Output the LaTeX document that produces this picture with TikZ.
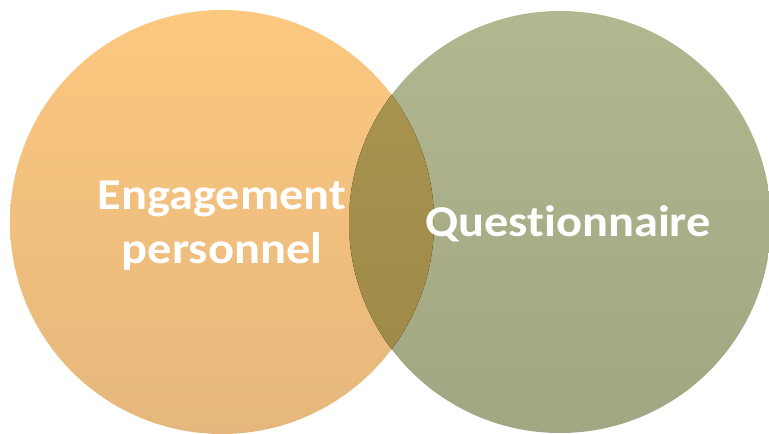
\documentclass[tikz,border=0pt]{standalone}
\usepackage{fontspec}
\setmainfont{Carlito}[Ligatures=NoCommon]
\usetikzlibrary{positioning}

\definecolor{orangetop}{HTML}{FCC880}
\definecolor{orangebot}{HTML}{E6B77C}
\definecolor{olivetop}{HTML}{B1B78F}
\definecolor{olivebot}{HTML}{A2A683}
\definecolor{mixtop}{HTML}{AA9650}
\definecolor{mixbot}{HTML}{9C8746}

\begin{document}
\begin{tikzpicture}[
    x=1pt, y=-1pt,
    set/.style={circle, minimum size=#1, inner sep=0pt},
    label/.style={text=white, font=\fontsize{44}{54}\selectfont\bfseries, align=center, transform shape, xscale=1.1}
]
\useasboundingbox (0,0) rectangle (769,434);

% Sets
\node[set=424pt, top color=orangetop, bottom color=orangebot] (engage) at (222,222) {};
\node[set=422pt, top color=olivetop, bottom color=olivebot] (quest) at (560,222) {};

% Overlap
\begin{scope}
\clip (engage.center) circle (212pt);
\fill[top color=mixtop, bottom color=mixbot] (quest.center) circle (211pt);
\end{scope}

% Labels
\node[label] (engagetext) at (222,226) {Engagement\\personnel};
\node[label] (questtext) at (568,224) {Questionnaire};

\end{tikzpicture}
\end{document}
